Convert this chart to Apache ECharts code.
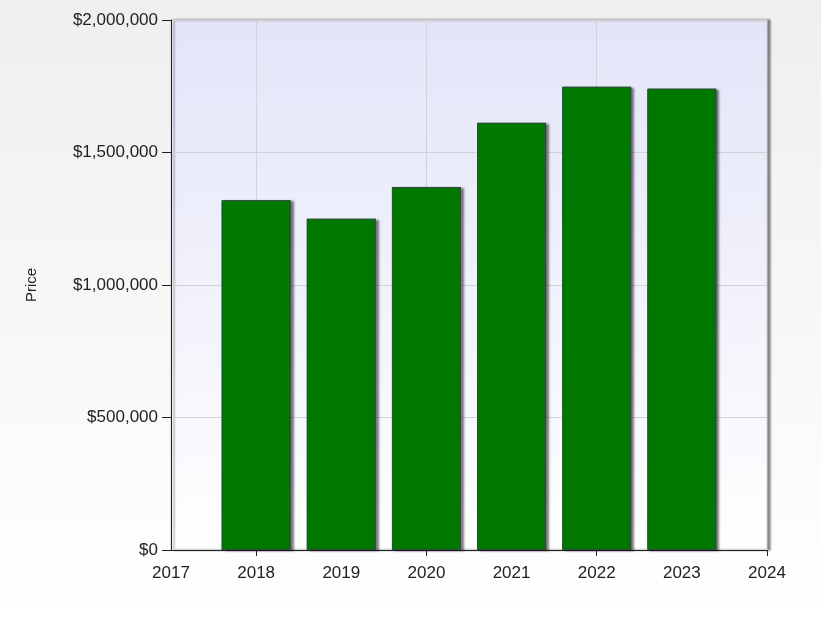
<!DOCTYPE html>
<html>
<head>
<meta charset="utf-8">
<script src="https://cdn.jsdelivr.net/npm/echarts@6/dist/echarts.min.js"></script>
<style>
html,body{margin:0;padding:0;}
#chart{width:821px;height:617px;}
</style>
</head>
<body>
<div id="chart"></div>
<script>
var axisYears = ['2017','2018','2019','2020','2021','2022','2023','2024'];
var barYears = ['2018','2019','2020','2021','2022','2023'];
var prices = [1320000, 1250000, 1370000, 1612000, 1748000, 1741000];
var yTicks = [0, 500000, 1000000, 1500000, 2000000];

var seriesData = axisYears.map(function (y) {
  var i = barYears.indexOf(y);
  return i >= 0 ? prices[i] : null;
});

function money(v) {
  return '$' + String(Math.round(v)).replace(/\B(?=(\d{3})+(?!\d))/g, ',');
}

var font = 'Liberation Sans, Arial, sans-serif';
var chart = echarts.init(document.getElementById('chart'));
chart.setOption({
  animation: false,
  backgroundColor: {
    type: 'linear', x: 0, y: 0, x2: 0, y2: 1,
    colorStops: [{offset: 0, color: '#efefef'}, {offset: 1, color: '#ffffff'}]
  },
  grid: {
    left: 171, right: 54, top: 20, bottom: 67,
    show: true,
    backgroundColor: {
      type: 'linear', x: 0, y: 0, x2: 0, y2: 1,
      colorStops: [{offset: 0, color: '#e3e4f8'}, {offset: 1, color: '#ffffff'}]
    },
    borderColor: '#d0d0d0',
    borderWidth: 1,
    shadowColor: 'rgba(0,0,0,0.45)',
    shadowBlur: 2,
    shadowOffsetX: 3,
    shadowOffsetY: 0
  },
  xAxis: {
    type: 'category',
    data: axisYears,
    boundaryGap: false,
    axisLine: {show: true, lineStyle: {color: '#222', width: 1}},
    axisTick: {show: true, length: 6, interval: function (i) { return i % 2 === 1; }, lineStyle: {color: '#222'}},
    axisLabel: {show: true, interval: 0, margin: 15, color: '#222', fontSize: 17, fontFamily: font},
    splitLine: {show: true, interval: function (i) { return i % 2 === 1 && i < 7; }, lineStyle: {color: '#d3d3d3', width: 1}}
  },
  yAxis: {
    type: 'value',
    min: yTicks[0],
    max: yTicks[yTicks.length - 1],
    interval: 500000,
    name: 'Price',
    nameLocation: 'middle',
    nameRotate: 90,
    nameGap: 132,
    nameTextStyle: {color: '#222', fontSize: 15, fontFamily: font},
    axisLine: {show: true, lineStyle: {color: '#222', width: 1}},
    axisTick: {show: true, length: 9, lineStyle: {color: '#222'}},
    axisLabel: {margin: 13, color: '#222', fontSize: 17, fontFamily: font, formatter: money},
    splitLine: {show: true, lineStyle: {color: '#d3d3d3', width: 1}}
  },
  series: [{
    type: 'bar',
    data: seriesData,
    barWidth: 69,
    itemStyle: {
      color: '#007800',
      borderWidth: 0,
      shadowColor: 'rgba(0,0,0,0.5)',
      shadowBlur: 2,
      shadowOffsetX: 3,
      shadowOffsetY: 1
    }
  }, {
    type: 'bar',
    data: seriesData,
    barWidth: 69,
    barGap: '-100%',
    silent: true,
    itemStyle: {
      color: 'rgba(0,0,0,0)',
      borderColor: '#34474a',
      borderWidth: 1
    }
  }]
});
</script>
</body>
</html>
